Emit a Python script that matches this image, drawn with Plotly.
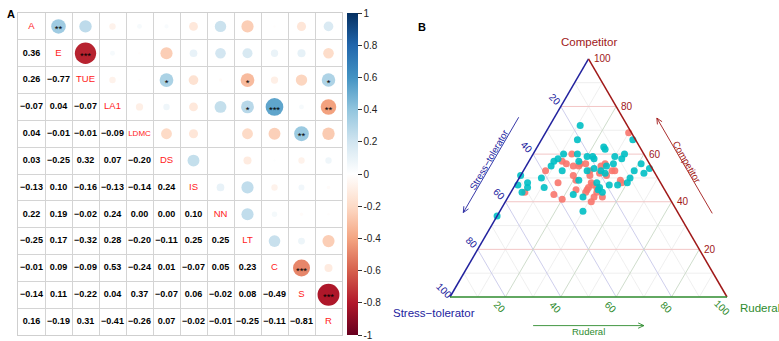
import math
import plotly.graph_objects as go

# ---------------- Panel A data (correlation matrix) ----------------
variables = ["A", "E", "TUE", "LA1", "LDMC", "DS", "IS", "NN", "LT", "C", "S", "R"]
lower_r = [
    [],
    [0.36],
    [0.26, -0.77],
    [-0.07, 0.04, -0.07],
    [0.04, -0.01, -0.01, -0.09],
    [0.03, -0.25, 0.32, 0.07, -0.20],
    [-0.13, 0.10, -0.16, -0.13, -0.14, 0.24],
    [0.22, 0.19, -0.02, 0.24, 0.00, 0.00, 0.10],
    [-0.25, 0.17, -0.32, 0.28, -0.20, -0.11, 0.25, 0.25],
    [-0.01, 0.09, -0.09, 0.53, -0.24, 0.01, -0.07, 0.05, 0.23],
    [-0.14, 0.11, -0.22, 0.04, 0.37, -0.07, 0.06, -0.02, 0.08, -0.49],
    [0.16, -0.19, 0.31, -0.41, -0.26, 0.07, -0.02, -0.01, -0.25, -0.11, -0.81],
]
sig_pairs = [("A", "E", "**"), ("E", "TUE", "***"), ("TUE", "DS", "*"), ("TUE", "LT", "*"),
             ("TUE", "R", "*"), ("LA1", "LT", "*"), ("LA1", "C", "***"), ("LA1", "R", "**"),
             ("LDMC", "S", "**"), ("C", "S", "***"), ("S", "R", "***")]
cbar_vals = [1, 0.8, 0.6, 0.4, 0.2, 0, -0.2, -0.4, -0.6, -0.8, -1]
cbar_text = ["1", "0.8", "0.6", "0.4", "0.2", "0", "-0.2", "-0.4", "-0.6", "-0.8", "-1"]

# ---------------- Panel B data (CSR ternary, %) ----------------
red_C = [69, 60, 57, 56, 56, 56, 55, 56, 53, 55, 55, 53, 53, 53, 51, 51, 52, 51, 48, 49, 48, 49,
         48, 47, 46, 46, 45, 45, 44, 43, 44, 44, 41, 42, 42, 40]
red_S = [1, 26, 31, 30, 25, 23, 18, 16, 39, 28, 26, 23, 15, 14, 30, 24, 20, 18, 37, 30, 25, 14,
         14, 25, 24, 27, 28, 32, 51, 41, 29, 25, 39, 27, 24, 29]
red_R = [30, 14, 12, 14, 19, 21, 27, 28, 8, 17, 19, 24, 32, 33, 19, 25, 28, 31, 15, 21, 27, 37,
         38, 28, 30, 27, 27, 23, 5, 16, 27, 31, 20, 31, 34, 31]
teal_C = [72, 66, 63, 62, 66, 60, 60, 59, 59, 59, 60, 57, 58, 57, 58, 58, 56, 56, 55, 53, 54, 53,
          55, 53, 54, 52, 50, 53, 52, 50, 48, 48, 49, 48, 47, 47, 47, 51, 46, 46, 46, 44, 43, 44,
          45, 42, 36, 34]
teal_S = [17, 21, 13, 13, 1, 29, 24, 21, 19, 11, 7, 34, 32, 25, 19, 9, 13, 3, 36, 33, 21, 19,
          16, 7, 1, 4, 42, 24, 18, 10, 12, 48, 29, 23, 19, 16, 52, 49, 43, 49, 23, 52, 34, 23,
          24, 31, 34, 66]
teal_R = [11, 13, 24, 25, 33, 11, 16, 20, 22, 30, 33, 9, 10, 18, 23, 33, 31, 41, 9, 14, 25, 28,
          29, 40, 45, 44, 8, 23, 30, 40, 40, 4, 22, 29, 34, 37, 1, 0, 11, 5, 31, 4, 23, 33,
          31, 27, 30, 0]
tern_labels = [20, 40, 60, 80, 100]
tern_grid = [10, 20, 30, 40, 50, 60, 70, 80, 90]

# ---------------- styling / layout constants ----------------
W, H = 779, 341
FONT = "Liberation Sans, Arial, Helvetica, sans-serif"
A_X0, A_X1, A_Y0, A_Y1 = 18, 342, 13, 335
N = len(variables)
CELL = (A_X1 - A_X0) / N
RDBU = ["#67001F", "#B2182B", "#D6604D", "#F4A582", "#FDDBC7", "#FFFFFF",
        "#D1E5F0", "#92C5DE", "#4393C3", "#2166AC", "#053061"]
colorscale = [[i / 10, c] for i, c in enumerate(RDBU)]

COL_C = "#a01818"
COL_S = "#22229e"
COL_R = "#2e8b2e"
T_X0, T_Y0 = 450, 297      # pixel position of the ternary origin (S vertex)
SX, SY = 2.77, 2.75        # pixels per ternary unit
B_DOM_X0 = 390

fig = go.Figure()

# ---------------- Panel A traces ----------------
cx, cy, csize, ccol = [], [], [], []
for i in range(N):
    for j in range(i + 1, N):
        r = lower_r[j][i]
        cx.append(j + 0.5)
        cy.append(i + 0.5)
        csize.append(0.9 * math.sqrt(abs(r)) * CELL)
        ccol.append(r)

fig.add_trace(go.Scatter(
    x=cx, y=cy, mode="markers", hoverinfo="skip",
    marker=dict(size=csize, color=ccol, colorscale=colorscale, cmin=-1, cmax=1,
                opacity=1, line=dict(width=0), showscale=True,
                colorbar=dict(x=347 / W, xanchor="left", y=1 - A_Y0 / H, yanchor="top",
                              len=A_Y1 - A_Y0, lenmode="pixels", thickness=11,
                              thicknessmode="pixels", xpad=0, ypad=0, outlinewidth=0,
                              ticks="outside", ticklen=4, tickwidth=1, tickcolor="#333",
                              tickvals=cbar_vals, ticktext=cbar_text,
                              tickfont=dict(size=10, color="#222", family=FONT))),
    xaxis="x", yaxis="y"))

idx = {v: k for k, v in enumerate(variables)}
sx, sy, st = [], [], []
for a, b, s in sig_pairs:
    i, j = sorted((idx[a], idx[b]))
    sx.append(j + 0.5)
    sy.append(i + 0.62)
    st.append(s)
fig.add_trace(go.Scatter(x=sx, y=sy, mode="text", text=st, hoverinfo="skip",
                         textfont=dict(size=9.5, color="black", family=FONT)))

fig.add_trace(go.Scatter(
    x=[k + 0.5 for k in range(N)], y=[k + 0.5 for k in range(N)], mode="text",
    text=variables, hoverinfo="skip",
    textfont=dict(size=[8 if len(v) > 3 else 9.5 for v in variables], color="#ff1a1a",
                  family=FONT)))

lx, ly, lt = [], [], []
for i in range(N):
    for j in range(i):
        lx.append(j + 0.5)
        ly.append(i + 0.5)
        v = lower_r[i][j]
        lt.append(f"{v:.2f}".replace("-", "\u2212") if v != 0 else "0.00")
fig.add_trace(go.Scatter(x=lx, y=ly, mode="text", text=lt, hoverinfo="skip",
                         textfont=dict(size=9, color="black", family=FONT, weight="bold")))

# ---------------- Panel B helpers ----------------
S3 = math.sqrt(3) / 2


def txy(c, s, r):
    tot = c + s + r
    c, r = 100 * c / tot, 100 * r / tot
    return r + c / 2, c * S3


def seg_trace(segs, color, width):
    xs, ys = [], []
    for (p, q) in segs:
        xs += [p[0], q[0], None]
        ys += [p[1], q[1], None]
    return go.Scatter(x=xs, y=ys, mode="lines", hoverinfo="skip",
                      line=dict(color=color, width=width), xaxis="x2", yaxis="y2")


fam = {
    "C": lambda v: (txy(v, 100 - v, 0), txy(v, 0, 100 - v)),
    "S": lambda v: (txy(100 - v, v, 0), txy(0, v, 100 - v)),
    "R": lambda v: (txy(100 - v, 0, v), txy(0, 100 - v, v)),
}
major_col = {"C": "#f1c0c0", "S": "#c8c8ea", "R": "#cad9c6"}
minor = []
for k in fam:
    minor += [fam[k](v) for v in tern_grid if v % 20]
fig.add_trace(seg_trace(minor, "#ebebeb", 0.8))
for k in fam:
    fig.add_trace(seg_trace([fam[k](v) for v in tern_grid if v % 20 == 0], major_col[k], 0.9))

fig.add_trace(go.Scatter(
    x=[txy(c, s, r)[0] for c, s, r in zip(red_C, red_S, red_R)],
    y=[txy(c, s, r)[1] for c, s, r in zip(red_C, red_S, red_R)],
    mode="markers", hoverinfo="skip", xaxis="x2", yaxis="y2",
    marker=dict(size=7, color="#F8766D", opacity=0.9, line=dict(width=0))))
fig.add_trace(go.Scatter(
    x=[txy(c, s, r)[0] for c, s, r in zip(teal_C, teal_S, teal_R)],
    y=[txy(c, s, r)[1] for c, s, r in zip(teal_C, teal_S, teal_R)],
    mode="markers", hoverinfo="skip", xaxis="x2", yaxis="y2",
    marker=dict(size=7, color="#00BFC4", opacity=0.9, line=dict(width=0))))

# triangle edges
vC, vS, vR = txy(100, 0, 0), txy(0, 100, 0), txy(0, 0, 100)
fig.add_trace(seg_trace([(vC, vS)], COL_S, 1.5))
fig.add_trace(seg_trace([(vC, vR)], COL_C, 1.5))
fig.add_trace(seg_trace([(vS, vR)], COL_R, 1.5))


# arrows parallel to the edges
def edge_pt(edge, t, d):
    if edge == "S":      # left edge, t = C fraction
        p, n = txy(100 * t, 100 * (1 - t), 0), (-S3, 0.5)
    elif edge == "C":    # right edge, t = C fraction
        p, n = txy(100 * t, 0, 100 * (1 - t)), (S3, 0.5)
    else:                # bottom edge, t = R fraction
        p, n = txy(0, 100 * (1 - t), 100 * t), (0, -1)
    return (p[0] + n[0] * d, p[1] + n[1] * d)


def arrow(p0, p1, color):
    dx, dy = p1[0] - p0[0], p1[1] - p0[1]
    L = math.hypot(dx, dy)
    ux, uy = dx / L, dy / L
    hl, ang = 2.3, math.radians(25)
    segs = [(p0, p1)]
    for a in (ang, -ang):
        bx = -(ux * math.cos(a) - uy * math.sin(a))
        by = -(ux * math.sin(a) + uy * math.cos(a))
        segs.append((p1, (p1[0] + hl * bx, p1[1] + hl * by)))
    fig.add_trace(seg_trace(segs, color, 0.9))


arrow(edge_pt("S", 0.69, 11.2), edge_pt("S", 0.29, 11.2), COL_S)
arrow(edge_pt("C", 0.29, 10.6), edge_pt("C", 0.69, 10.6), COL_C)
arrow(edge_pt("R", 0.30, 10.4), edge_pt("R", 0.70, 10.4), COL_R)

ann = []


def tann(pos, text, color, size=10, **kw):
    d = dict(x=pos[0], y=pos[1], xref="x2", yref="y2", text=text, showarrow=False,
             font=dict(size=size, color=color, family=FONT))
    d.update(kw)
    ann.append(d)


for v in tern_labels:
    tann(txy(v, 0, 100 - v), str(v), COL_C, xanchor="left", xshift=3)
    tann(txy(100 - v, v, 0), str(v), COL_S, xshift=-6, yshift=7, textangle=45)
    tann(txy(0, 100 - v, v), str(v), COL_R, xshift=-5, yshift=-10, textangle=45)

tann(edge_pt("S", 0.5, 13.0), "Stress\u2212tolerator", COL_S, size=9.5, textangle=-60)
tann(edge_pt("C", 0.5, 12.1), "Competitor", COL_C, size=9.5, textangle=60)
tann(edge_pt("R", 0.5, 12.4), "Ruderal", COL_R, size=9.5)

tann(vC, "Competitor", COL_C, size=11.5, yshift=17)
tann(vS, "Stress\u2212tolerator", COL_S, size=11.5, xanchor="right", xshift=27, yshift=-16)
tann(vR, "Ruderal", COL_R, size=11.5, xanchor="left", xshift=11, yshift=-11)

ann.append(dict(x=5 / W, y=1 - 6.5 / H, xref="paper", yref="paper", text="<b>A</b>",
                showarrow=False, font=dict(size=11, color="black", family=FONT)))
ann.append(dict(x=422 / W, y=1 - 19 / H, xref="paper", yref="paper", text="<b>B</b>",
                showarrow=False, font=dict(size=11, color="black", family=FONT)))

grid_axis = dict(range=[0, N], tickvals=list(range(N + 1)), showgrid=True,
                 gridcolor="#d4d4d4", gridwidth=1, showticklabels=False, ticks="",
                 zeroline=False, showline=True, mirror=True, linecolor="#cfcfcf",
                 linewidth=1, fixedrange=True)

fig.update_layout(
    width=W, height=H, margin=dict(l=0, r=0, t=0, b=0),
    paper_bgcolor="white", plot_bgcolor="white", showlegend=False,
    font=dict(family=FONT),
    xaxis=dict(grid_axis, domain=[A_X0 / W, A_X1 / W], anchor="y"),
    yaxis=dict(grid_axis, domain=[1 - A_Y1 / H, 1 - A_Y0 / H], anchor="x",
               range=[N, 0]),
    xaxis2=dict(domain=[B_DOM_X0 / W, 1], anchor="y2", visible=False, fixedrange=True,
                range=[(B_DOM_X0 - T_X0) / SX, (W - T_X0) / SX]),
    yaxis2=dict(domain=[0, 1], anchor="x2", visible=False, fixedrange=True,
                range=[(T_Y0 - H) / SY, T_Y0 / SY]),
    annotations=ann,
)

fig.write_html("out.html")
